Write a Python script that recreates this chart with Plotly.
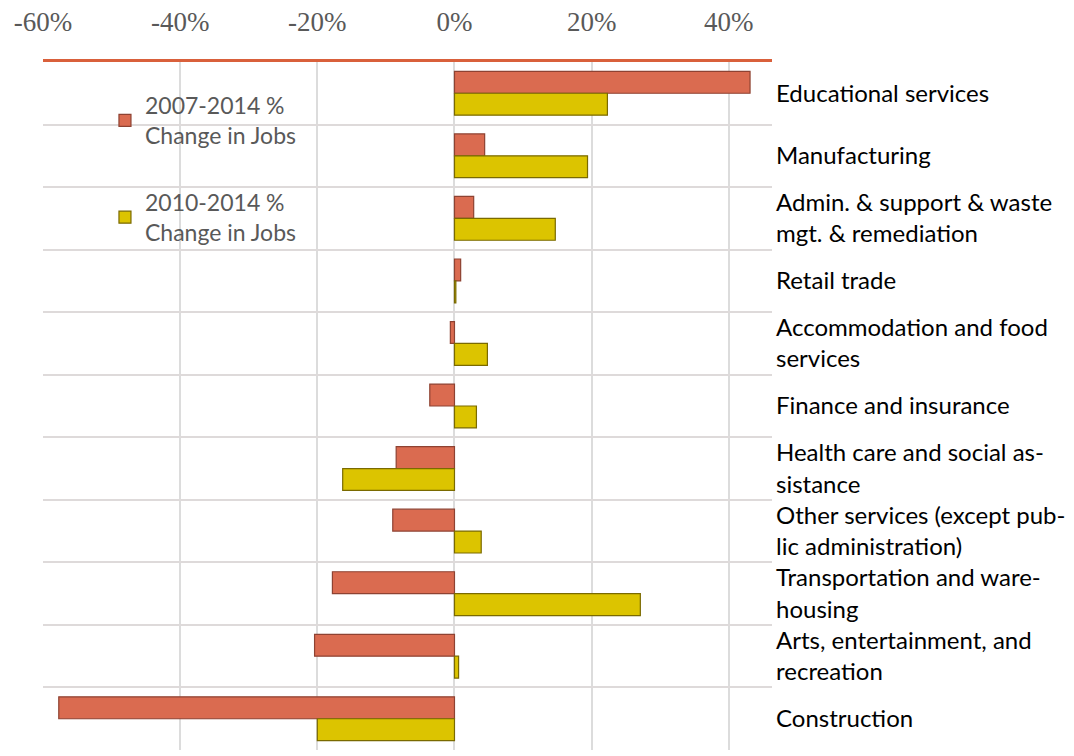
import plotly.graph_objects as go

categories = [
    "Educational services",
    "Manufacturing",
    "Admin. & support & waste<br>mgt. & remediation",
    "Retail trade",
    "Accommodation and food<br>services",
    "Finance and insurance",
    "Health care and social as-<br>sistance",
    "Other services (except pub-<br>lic administration)",
    "Transportation and ware-<br>housing",
    "Arts, entertainment, and<br>recreation",
    "Construction",
]
chg_2007_2014 = [43.1, 4.4, 2.8, 0.9, -0.6, -3.6, -8.5, -9.0, -17.8, -20.4, -57.7]
chg_2010_2014 = [22.3, 19.4, 14.7, 0.2, 4.8, 3.2, -16.3, 3.9, 27.1, 0.6, -20.0]
series_names = ["2007-2014 %<br>Change in Jobs", "2010-2014 %<br>Change in Jobs"]
x_ticks = [-60, -40, -20, 0, 20, 40]

fig = go.Figure()
fig.add_trace(go.Bar(
    y=categories, x=chg_2007_2014, orientation="h", name=series_names[0],
    legendgroup="a",
    marker=dict(color="#DA6B50", line=dict(color="#8E4232", width=1.2)),
))
fig.add_trace(go.Bar(
    y=categories, x=chg_2010_2014, orientation="h", name=series_names[1],
    legendgroup="b",
    marker=dict(color="#DCC400", line=dict(color="#7A6A00", width=1.2)),
))

fig.update_layout(
    width=1066, height=748,
    margin=dict(l=35, r=302, t=54, b=6),
    paper_bgcolor="white", plot_bgcolor="white",
    barmode="group", bargap=0.3, bargroupgap=0,
    showlegend=True,
    legend=dict(
        x=0.085, y=0.968, xanchor="left", yanchor="top",
        bgcolor="rgba(0,0,0,0)",
        font=dict(family="Lato", size=23, color="#595959"),
        traceorder="grouped", tracegroupgap=34,
        itemclick=False,
    ),
    font=dict(family="Lato", color="#000000"),
)
fig.update_xaxes(
    side="top", range=[-60, 46.3], tickvals=x_ticks,
    ticktext=[f"{v}%" for v in x_ticks],
    tickfont=dict(family="Liberation Serif", size=27, color="#595959"),
    showgrid=True, gridcolor="#DCDCDC", gridwidth=2,
    zeroline=False, automargin=False,
    showline=True, linecolor="#D9603B", linewidth=3,
    ticks="", ticklabelstandoff=17,
)
fig.update_yaxes(
    type="category", autorange="reversed", side="right",
    tickson="boundaries", showgrid=True, gridcolor="#DEDADA", gridwidth=2,
    ticks="", showline=False, zeroline=False, automargin=False,
    tickfont=dict(family="Lato", size=24, color="#000000"),
    ticklabelstandoff=3,
)

fig.write_html("out.html")
